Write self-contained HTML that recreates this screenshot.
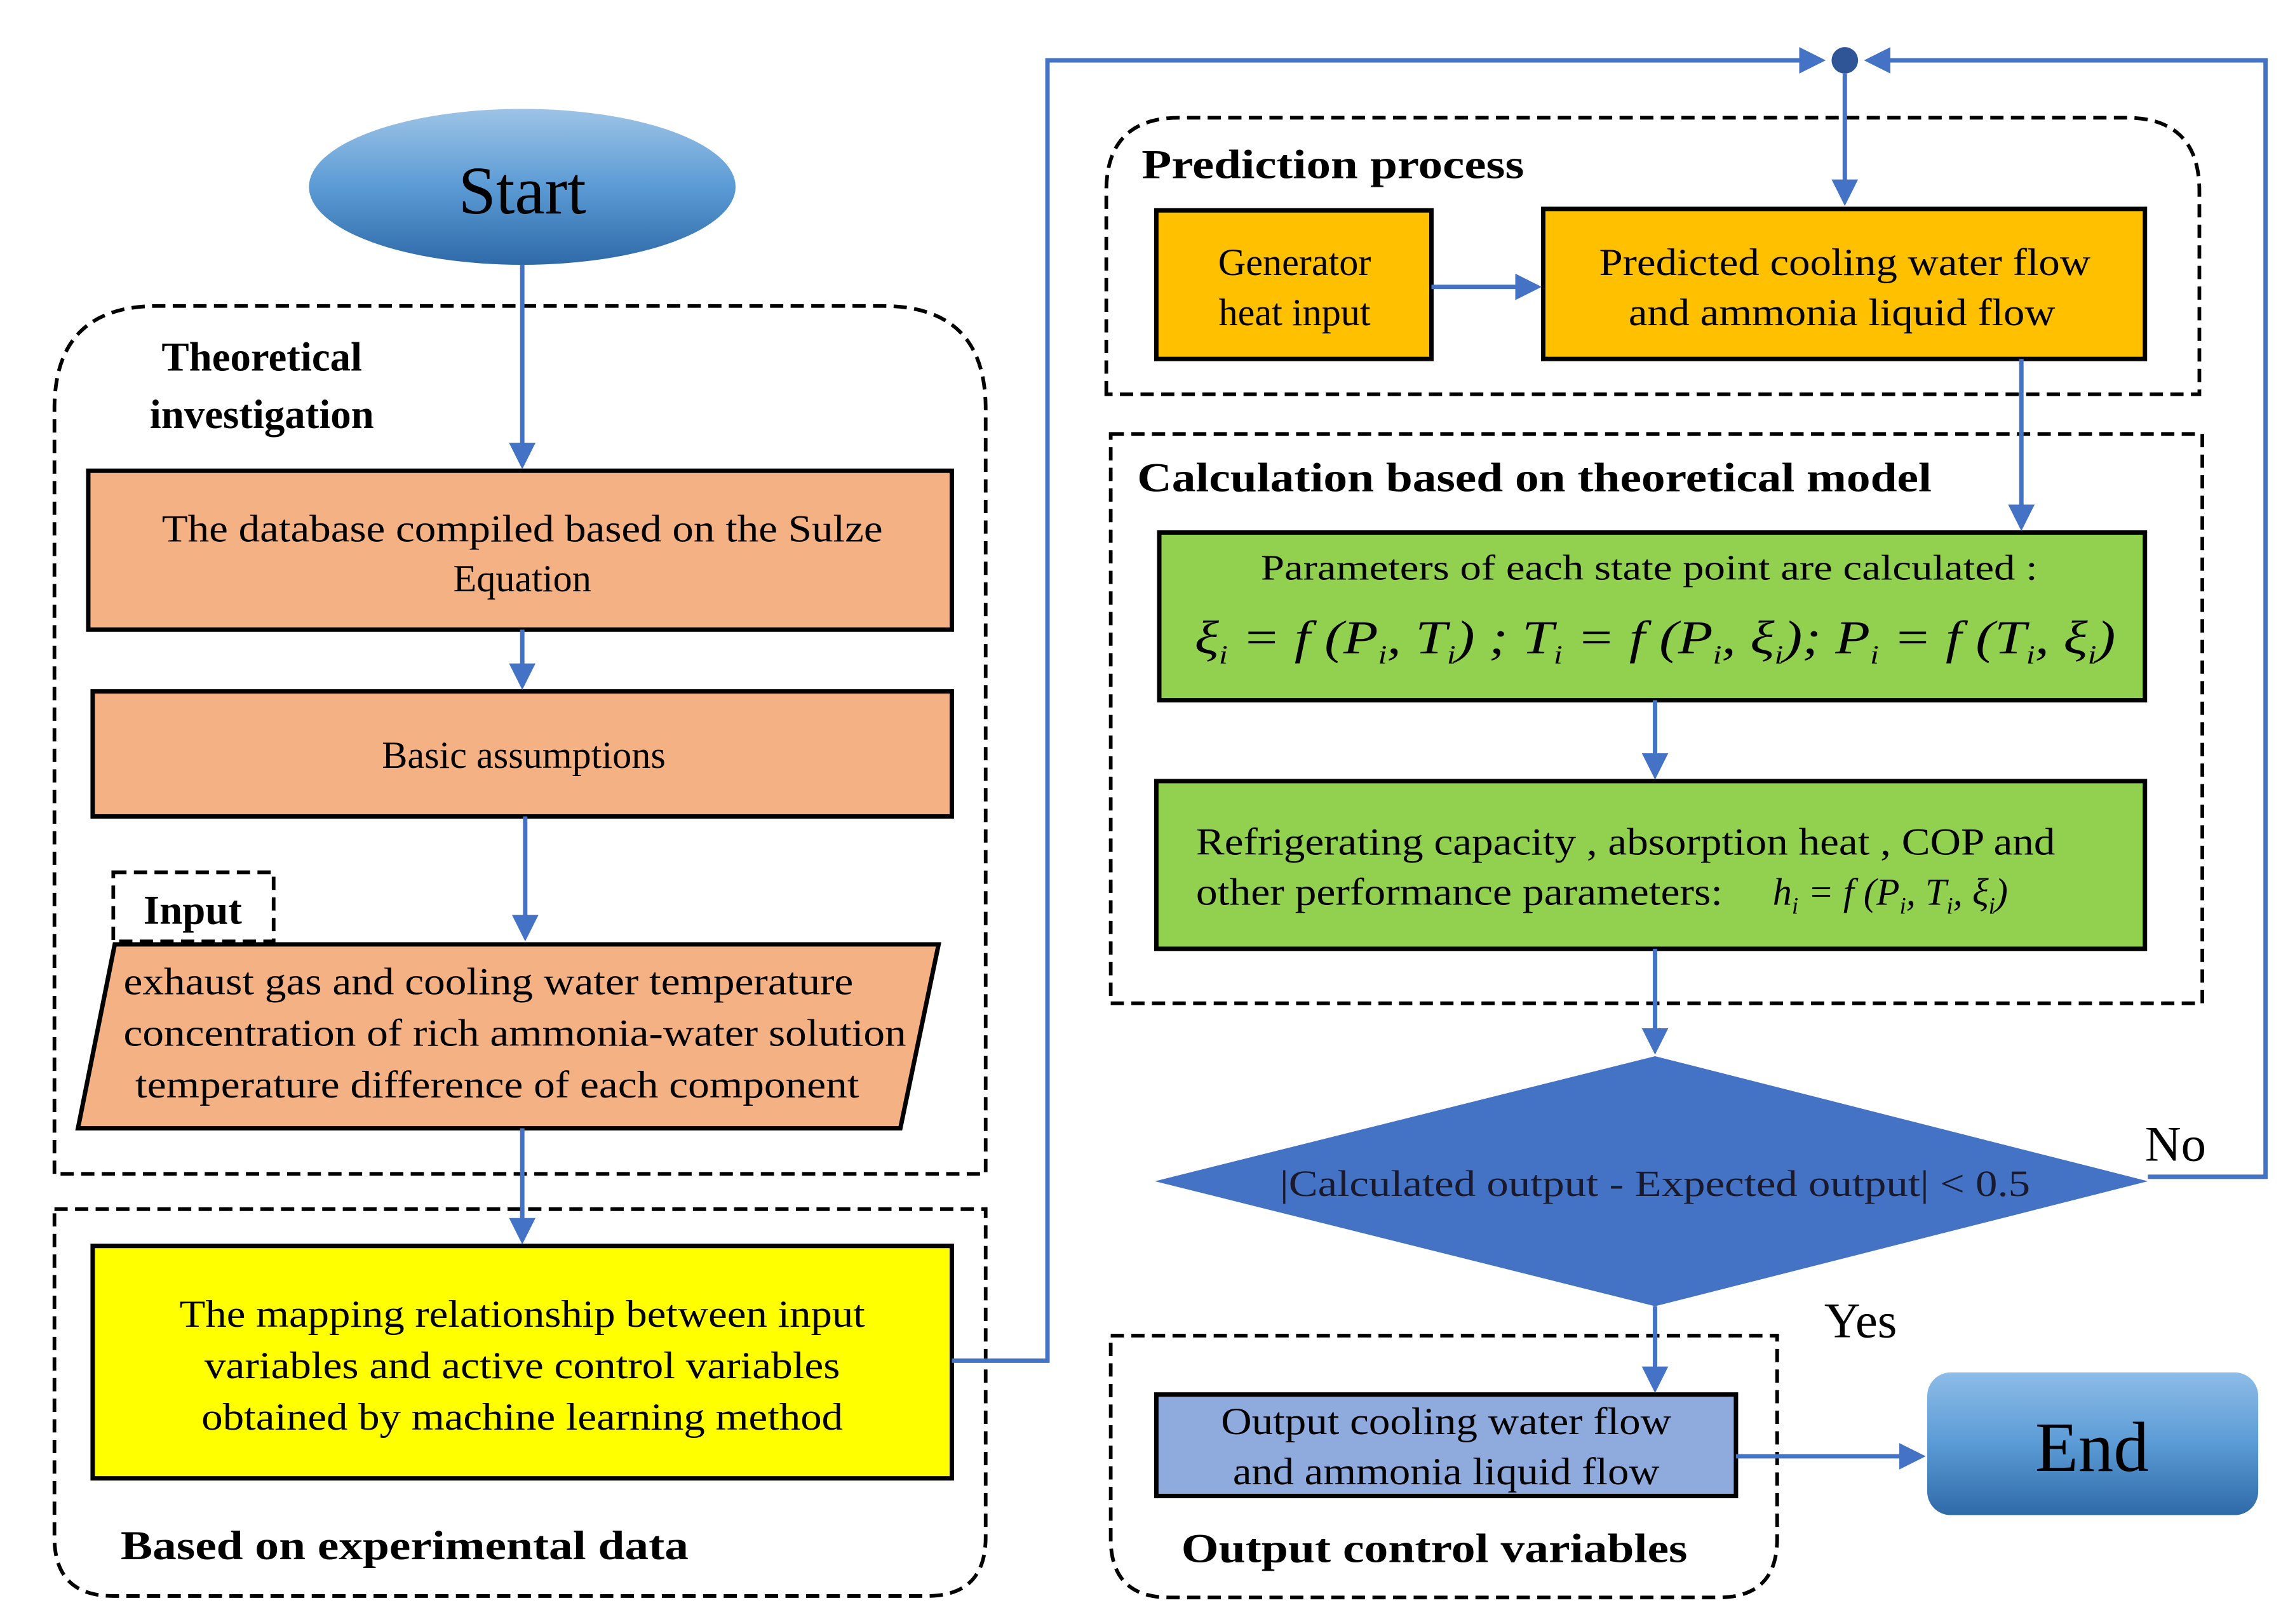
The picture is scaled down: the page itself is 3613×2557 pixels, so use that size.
<!DOCTYPE html>
<html><head><meta charset="utf-8"><style>html,body{margin:0;padding:0;background:#fff}svg{display:block}</style></head>
<body>
<svg width="3613" height="2557" viewBox="0 0 1560 1104" xmlns="http://www.w3.org/2000/svg" font-family="Liberation Serif, serif">
<defs>
<linearGradient id="gs" x1="0" y1="0" x2="0" y2="1"><stop offset="0" stop-color="#9DC3E6"/><stop offset="0.5" stop-color="#5B9BD5"/><stop offset="1" stop-color="#2E6AA8"/></linearGradient>
<linearGradient id="ge" x1="0" y1="0" x2="0" y2="1"><stop offset="0" stop-color="#8DBCE8"/><stop offset="0.5" stop-color="#5B9BD5"/><stop offset="1" stop-color="#2E6AA8"/></linearGradient>
<marker id="a" markerWidth="6" markerHeight="6" refX="5" refY="3" orient="auto" markerUnits="strokeWidth"><path d="M0,0 L6,3 L0,6 z" fill="#4472C4"/></marker>
</defs>
<g fill="none" stroke="#000" stroke-width="2.5" stroke-dasharray="9,5">
<path d="M37,798 V278 Q37,208 107,208 H600 Q670,208 670,278 V798 Z"/>
<path d="M37,822 H670 V1045 Q670,1085 630,1085 H77 Q37,1085 37,1045 Z"/>
<path d="M752,268 V130 Q752,80 802,80 H1445 Q1495,80 1495,130 V268 Z"/>
<rect x="755" y="295" width="742" height="387"/>
<path d="M755,908 H1208 V1046 Q1208,1086 1168,1086 H795 Q755,1086 755,1046 Z"/>
<rect x="77" y="593" width="109" height="47"/>
</g>
<ellipse cx="355" cy="127" rx="145" ry="53" fill="url(#gs)"/>
<text x="355" y="145" font-size="46" text-anchor="middle">Start</text>
<g stroke="#000" stroke-width="3">
<rect x="60" y="320" width="587" height="108" fill="#F4B183"/>
<rect x="63" y="470" width="584" height="85" fill="#F4B183"/>
<polygon points="78,642 638,642 612,767 53,767" fill="#F4B183"/>
<rect x="63" y="847" width="584" height="158" fill="#FFFF00"/>
<rect x="786" y="143" width="187" height="101" fill="#FFC000"/>
<rect x="1049" y="142" width="409" height="102" fill="#FFC000"/>
<rect x="788" y="362" width="670" height="114" fill="#92D050"/>
<rect x="786" y="531" width="672" height="114" fill="#92D050"/>
<rect x="786" y="948" width="394" height="69" fill="#8FAADC"/>
</g>
<polygon points="1125,718 1460,803 1125,888 785,803" fill="#4472C4"/>
<rect x="1310" y="933" width="225" height="97" rx="16" fill="url(#ge)"/>
<g stroke="#4472C4" stroke-width="3" fill="none">
<line x1="355" y1="180" x2="355" y2="316" marker-end="url(#a)"/>
<line x1="355" y1="428" x2="355" y2="466" marker-end="url(#a)"/>
<line x1="357" y1="555" x2="357" y2="637" marker-end="url(#a)"/>
<line x1="355" y1="767" x2="355" y2="843" marker-end="url(#a)"/>
<polyline points="647,925 712,925 712,41 1238,41" marker-end="url(#a)"/>
<polyline points="1460,800 1540,800 1540,41 1270,41" marker-end="url(#a)"/>
<line x1="1254" y1="50" x2="1254" y2="137" marker-end="url(#a)"/>
<line x1="973" y1="195" x2="1045" y2="195" marker-end="url(#a)"/>
<line x1="1374" y1="244" x2="1374" y2="358" marker-end="url(#a)"/>
<line x1="1125" y1="476" x2="1125" y2="527" marker-end="url(#a)"/>
<line x1="1125" y1="645" x2="1125" y2="714" marker-end="url(#a)"/>
<line x1="1125" y1="888" x2="1125" y2="944" marker-end="url(#a)"/>
<line x1="1180" y1="990" x2="1306" y2="990" marker-end="url(#a)"/>
</g>
<circle cx="1254" cy="41" r="9" fill="#2F5597"/>
<g font-size="26" fill="#000" text-anchor="middle">
<text x="355" y="368" textLength="490" lengthAdjust="spacingAndGlyphs">The database compiled based on the Sulze</text>
<text x="355" y="402">Equation</text>
<text x="356" y="522">Basic assumptions</text>
<text x="332" y="676" textLength="496" lengthAdjust="spacingAndGlyphs">exhaust gas and cooling water temperature</text>
<text x="350" y="711" textLength="532" lengthAdjust="spacingAndGlyphs">concentration of rich ammonia-water solution</text>
<text x="338" y="746" textLength="492" lengthAdjust="spacingAndGlyphs">temperature difference of each component</text>
<text x="355" y="902" textLength="466" lengthAdjust="spacingAndGlyphs">The mapping relationship between input</text>
<text x="355" y="937" textLength="432" lengthAdjust="spacingAndGlyphs">variables and active control variables</text>
<text x="355" y="972" textLength="436" lengthAdjust="spacingAndGlyphs">obtained by machine learning method</text>
<text x="880" y="187">Generator</text>
<text x="880" y="221">heat input</text>
<text x="1254" y="187" textLength="334" lengthAdjust="spacingAndGlyphs">Predicted cooling water flow</text>
<text x="1252" y="221" textLength="290" lengthAdjust="spacingAndGlyphs">and ammonia liquid flow</text>
<text x="1121" y="394" font-size="24" textLength="528" lengthAdjust="spacingAndGlyphs">Parameters of each state point are calculated :</text>
<text x="983" y="975" textLength="306" lengthAdjust="spacingAndGlyphs">Output cooling water flow</text>
<text x="983" y="1009" textLength="290" lengthAdjust="spacingAndGlyphs">and ammonia liquid flow</text>
<text x="1125" y="813" font-size="25" fill="#1a1a2e" textLength="510" lengthAdjust="spacingAndGlyphs">|Calculated output - Expected output|  &lt;  0.5</text>
<text x="1422" y="1000" font-size="48">End</text>
</g>
<g font-size="26" fill="#000">
<text x="813" y="581" textLength="584" lengthAdjust="spacingAndGlyphs">Refrigerating capacity , absorption heat , COP and</text>
<text x="813" y="615" textLength="358" lengthAdjust="spacingAndGlyphs">other performance parameters:</text>
<text x="1205" y="615" font-style="italic">h<tspan font-size="16" dy="6">i</tspan><tspan dy="-6"> = f (P</tspan><tspan font-size="16" dy="6">i</tspan><tspan dy="-6">, T</tspan><tspan font-size="16" dy="6">i</tspan><tspan dy="-6">, ξ</tspan><tspan font-size="16" dy="6">i</tspan><tspan dy="-6">)</tspan></text>
<text x="812" y="444" font-size="32" font-style="italic" textLength="626" lengthAdjust="spacingAndGlyphs">ξ<tspan font-size="18" dy="7">i</tspan><tspan dy="-7"> = f (P</tspan><tspan font-size="18" dy="7">i</tspan><tspan dy="-7">, T</tspan><tspan font-size="18" dy="7">i</tspan><tspan dy="-7">) ; T</tspan><tspan font-size="18" dy="7">i</tspan><tspan dy="-7"> = f (P</tspan><tspan font-size="18" dy="7">i</tspan><tspan dy="-7">, ξ</tspan><tspan font-size="18" dy="7">i</tspan><tspan dy="-7">);  P</tspan><tspan font-size="18" dy="7">i</tspan><tspan dy="-7"> = f (T</tspan><tspan font-size="18" dy="7">i</tspan><tspan dy="-7">, ξ</tspan><tspan font-size="18" dy="7">i</tspan><tspan dy="-7">)</tspan></text>
<text x="1458" y="789" font-size="34">No</text>
<text x="1240" y="909" font-size="34">Yes</text>
</g>
<g font-size="28" font-weight="bold" fill="#000">
<text x="178" y="252" text-anchor="middle">Theoretical</text>
<text x="178" y="291" text-anchor="middle">investigation</text>
<text x="131" y="628" text-anchor="middle">Input</text>
<text x="82" y="1060" textLength="386" lengthAdjust="spacingAndGlyphs">Based on experimental data</text>
<text x="776" y="121" textLength="260" lengthAdjust="spacingAndGlyphs">Prediction process</text>
<text x="773" y="334" textLength="540" lengthAdjust="spacingAndGlyphs">Calculation based on theoretical model</text>
<text x="803" y="1062" textLength="344" lengthAdjust="spacingAndGlyphs">Output control variables</text>
</g>
</svg>
</body></html>
